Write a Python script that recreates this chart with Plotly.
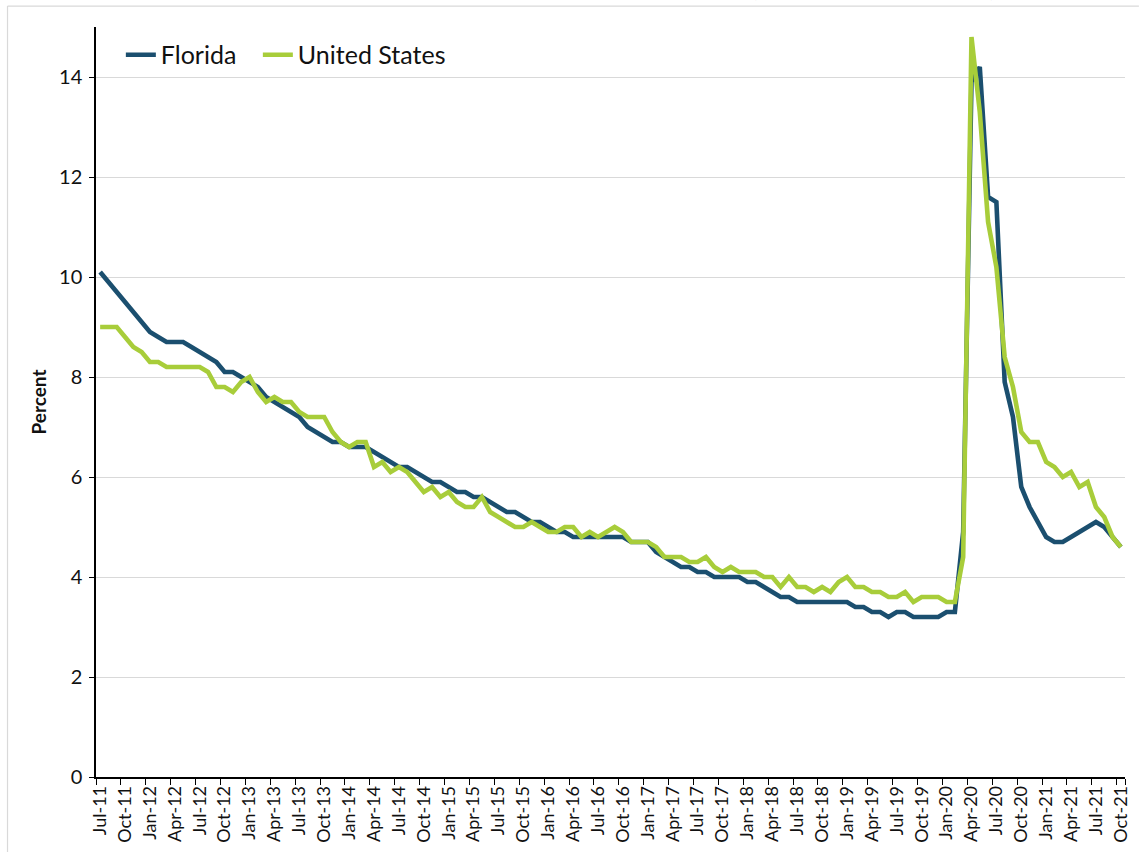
import plotly.graph_objects as go
import pandas as pd

# ---- data ----
months = list(pd.date_range("2011-07-01", periods=124, freq="MS").strftime("%b-%y"))

florida = [
    10.1, 9.9, 9.7, 9.5, 9.3, 9.1,
    8.9, 8.8, 8.7, 8.7, 8.7, 8.6, 8.5, 8.4, 8.3, 8.1, 8.1, 8.0,
    7.9, 7.8, 7.6, 7.5, 7.4, 7.3, 7.2, 7.0, 6.9, 6.8, 6.7, 6.7,
    6.6, 6.6, 6.6, 6.5, 6.4, 6.3, 6.2, 6.2, 6.1, 6.0, 5.9, 5.9,
    5.8, 5.7, 5.7, 5.6, 5.6, 5.5, 5.4, 5.3, 5.3, 5.2, 5.1, 5.1,
    5.0, 4.9, 4.9, 4.8, 4.8, 4.8, 4.8, 4.8, 4.8, 4.8, 4.7, 4.7,
    4.7, 4.5, 4.4, 4.3, 4.2, 4.2, 4.1, 4.1, 4.0, 4.0, 4.0, 4.0,
    3.9, 3.9, 3.8, 3.7, 3.6, 3.6, 3.5, 3.5, 3.5, 3.5, 3.5, 3.5,
    3.5, 3.4, 3.4, 3.3, 3.3, 3.2, 3.3, 3.3, 3.2, 3.2, 3.2, 3.2,
    3.3, 3.3, 4.9, 13.9, 14.2, 11.6, 11.5, 7.9, 7.2, 5.8, 5.4, 5.1,
    4.8, 4.7, 4.7, 4.8, 4.9, 5.0, 5.1, 5.0, 4.8, 4.6,
]

united_states = [
    9.0, 9.0, 9.0, 8.8, 8.6, 8.5,
    8.3, 8.3, 8.2, 8.2, 8.2, 8.2, 8.2, 8.1, 7.8, 7.8, 7.7, 7.9,
    8.0, 7.7, 7.5, 7.6, 7.5, 7.5, 7.3, 7.2, 7.2, 7.2, 6.9, 6.7,
    6.6, 6.7, 6.7, 6.2, 6.3, 6.1, 6.2, 6.1, 5.9, 5.7, 5.8, 5.6,
    5.7, 5.5, 5.4, 5.4, 5.6, 5.3, 5.2, 5.1, 5.0, 5.0, 5.1, 5.0,
    4.9, 4.9, 5.0, 5.0, 4.8, 4.9, 4.8, 4.9, 5.0, 4.9, 4.7, 4.7,
    4.7, 4.6, 4.4, 4.4, 4.4, 4.3, 4.3, 4.4, 4.2, 4.1, 4.2, 4.1,
    4.1, 4.1, 4.0, 4.0, 3.8, 4.0, 3.8, 3.8, 3.7, 3.8, 3.7, 3.9,
    4.0, 3.8, 3.8, 3.7, 3.7, 3.6, 3.6, 3.7, 3.5, 3.6, 3.6, 3.6,
    3.5, 3.5, 4.4, 14.8, 13.3, 11.1, 10.2, 8.4, 7.8, 6.9, 6.7, 6.7,
    6.3, 6.2, 6.0, 6.1, 5.8, 5.9, 5.4, 5.2, 4.8, 4.6,
]

tick_labels = months[::3]
y_ticks = [0, 2, 4, 6, 8, 10, 12, 14]
title_text = "Florida and U.S. Unemployment Rate (Seasonally Adjusted)"

# ---- layout geometry ----
W, H = 1140, 852
L, R, T, B = 96, 9, 27, 73
PW, PH = W - L - R, H - T - B


def px_x(px):
    return (px - L) / PW


def px_y(py):
    return (H - B - py) / PH


FL_COLOR = "#1b4f6f"
US_COLOR = "#a8cd3a"
FONT = "Lato, 'Open Sans', sans-serif"

fig = go.Figure()
fig.add_trace(go.Scatter(x=months, y=florida, mode="lines", name="Florida",
                         legendwidth=92,
                         line=dict(color=FL_COLOR, width=4.6)))
fig.add_trace(go.Scatter(x=months, y=united_states, mode="lines", name="United States",
                         line=dict(color=US_COLOR, width=4.6)))

fig.update_layout(
    width=W, height=H,
    margin=dict(l=L, r=R, t=T, b=B, pad=0),
    plot_bgcolor="white", paper_bgcolor="white",
    font=dict(family=FONT, color="#111111"),
    showlegend=True,
    legend=dict(orientation="h", x=px_x(121), xanchor="left", y=px_y(55), yanchor="middle",
                font=dict(size=25, color="#111111"), bgcolor="rgba(0,0,0,0)",
                itemwidth=30, tracegroupgap=0),
    xaxis=dict(type="category", tickmode="array", tickvals=tick_labels, ticktext=tick_labels,
               tickson="boundaries", ticks="outside", ticklen=6, tickwidth=1.2,
               tickcolor="black", showline=True, linecolor="black", linewidth=1.5,
               showgrid=False, tickangle=-90, tickfont=dict(size=18),
               range=[-0.5, len(months) - 0.5], fixedrange=True),
    yaxis=dict(range=[0, 15], tickmode="array", tickvals=y_ticks, ticks="outside",
               ticklen=5, tickwidth=1.2, tickcolor="black", showline=True,
               linecolor="black", linewidth=1.5, showgrid=True, gridcolor="#d9d9d9",
               gridwidth=1, zeroline=False, tickfont=dict(size=20),
               ticklabelstandoff=3,
               title=dict(text="<b>Percent</b>", font=dict(size=19), standoff=7)),
    shapes=[
        dict(type="line", xref="paper", yref="paper", x0=px_x(7), x1=px_x(W + 5),
             y0=px_y(6), y1=px_y(6), line=dict(color="#d9d9d9", width=1.2)),
        dict(type="line", xref="paper", yref="paper", x0=px_x(7), x1=px_x(7),
             y0=px_y(6), y1=px_y(H + 5), line=dict(color="#d9d9d9", width=1.2)),
    ],
    annotations=[
        dict(text="<b>" + title_text + "</b>", xref="paper", yref="paper",
             x=px_x(1003), xanchor="right", y=px_y(4), yanchor="bottom",
             showarrow=False, font=dict(size=26, color="#111111", family=FONT)),
    ],
)

fig.write_html(
    "out.html",
    config={"displayModeBar": False},
    post_script="document.body.style.margin='0px';document.body.style.padding='0px';",
)
